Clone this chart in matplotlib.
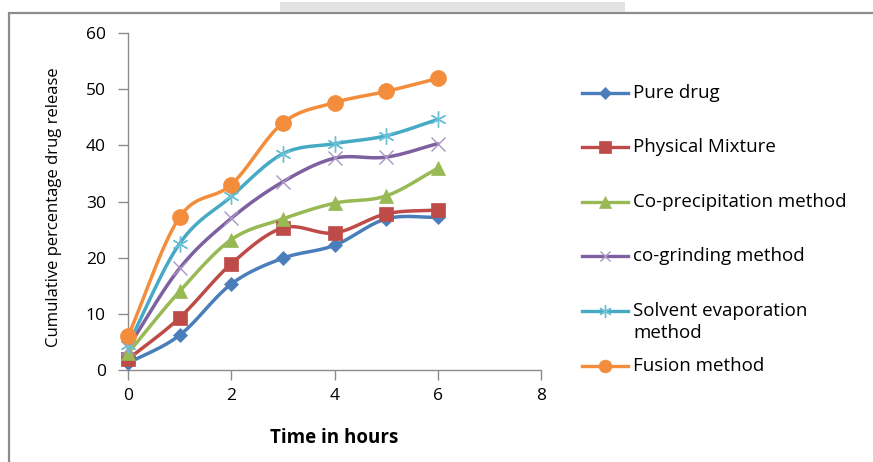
import matplotlib
matplotlib.use("Agg")
import matplotlib.pyplot as plt
from matplotlib.lines import Line2D
from matplotlib.patches import Rectangle
import numpy as np

plt.rcParams["font.family"] = ["Open Sans", "DejaVu Sans"]

hours = [0, 1, 2, 3, 4, 5, 6]
pure_drug = [1.2, 6.2, 15.3, 19.9, 22.2, 26.9, 27.2]
physical_mixture = [1.9, 9.3, 18.9, 25.3, 24.4, 27.8, 28.5]
co_precipitation = [3.0, 14.0, 23.2, 26.9, 29.7, 31.0, 35.9]
co_grinding = [4.0, 18.1, 27.0, 33.5, 37.7, 37.9, 40.3]
solvent_evaporation = [4.5, 22.5, 30.9, 38.5, 40.3, 41.7, 44.6]
fusion = [6.0, 27.2, 33.0, 44.0, 47.6, 49.6, 51.9]

SERIES = [
    (["Pure drug"], pure_drug, "#4A7EBB", "D", 7.5, "#4A7EBB"),
    (["Physical Mixture"], physical_mixture, "#BE4B48", "s", 10.5, "#BE4B48"),
    (["Co-precipitation method"], co_precipitation, "#98B954", "^", 10.5, "#98B954"),
    (["co-grinding method"], co_grinding, "#7D60A0", "x", 9.5, "#A996C4"),
    (["Solvent evaporation", "method"], solvent_evaporation, "#46AAC5", (6, 2, 0), 11.5, "#6CC0D6"),
    (["Fusion method"], fusion, "#F38D3B", "o", 11.5, "#F38D3B"),
]
LEGEND_Y_PX = [93, 147, 202, 256, 311, 366]
W, H = 873, 462


def smooth(x, y, n=20):
    # Catmull-Rom curve through the points, like Excel's smoothed line
    x = np.asarray(x, float)
    y = np.asarray(y, float)
    px = np.concatenate([[2 * x[0] - x[1]], x, [2 * x[-1] - x[-2]]])
    py = np.concatenate([[2 * y[0] - y[1]], y, [2 * y[-1] - y[-2]]])
    xs, ys = [], []
    t = np.linspace(0, 1, n, endpoint=False)
    for i in range(1, len(px) - 2):
        for p, out in ((px, xs), (py, ys)):
            p0, p1, p2, p3 = p[i - 1], p[i], p[i + 1], p[i + 2]
            out.extend(0.5 * ((2 * p1) + (-p0 + p2) * t
                              + (2 * p0 - 5 * p1 + 4 * p2 - p3) * t ** 2
                              + (-p0 + 3 * p1 - 3 * p2 + p3) * t ** 3))
    xs.append(x[-1])
    ys.append(y[-1])
    return xs, ys


fig = plt.figure(figsize=(W / 100, H / 100), dpi=100)
fig.patches.append(Rectangle((9 / W, -0.1), 1.0, 1 - 13 / H + 0.1,
                             transform=fig.transFigure, fill=False,
                             edgecolor="#8c8c8c", linewidth=1.6))
fig.patches.append(Rectangle((280 / W, 1 - 12 / H), 345 / W, 10 / H,
                             transform=fig.transFigure, facecolor="#e2e2e2",
                             edgecolor="none"))

ax = fig.add_axes([128 / W, 92 / H, 413 / W, 337 / H])

for (labels, vals, color, marker, ms, mcolor), ly in zip(SERIES, LEGEND_Y_PX):
    mew = 1.0 if marker in ("x", (6, 2, 0)) else 0.5
    sx, sy = smooth(hours, vals)
    ax.plot(sx, sy, color=color, linewidth=2.5, solid_capstyle="round",
            zorder=2, clip_on=False)
    ax.plot(hours, vals, linestyle="none", marker=marker, markersize=ms,
            color=mcolor, markeredgecolor=mcolor, markeredgewidth=mew,
            zorder=3, clip_on=False)

    # legend entry, handle on the first text line as in the original
    yf = 1 - ly / H
    fig.add_artist(Line2D([582 / W, 628 / W], [yf, yf], color=color,
                          linewidth=2.4, transform=fig.transFigure))
    fig.add_artist(Line2D([605 / W], [yf], linestyle="none", marker=marker,
                          markersize=ms * 0.8, color=mcolor,
                          markeredgecolor=mcolor, markeredgewidth=mew,
                          transform=fig.transFigure))
    for k, text in enumerate(labels):
        fig.text(633 / W, yf - k * 22 / H, text, ha="left", va="center",
                 fontsize=13.5)

ax.set_xlim(0, 8)
ax.set_ylim(0, 60)
ax.set_xticks([0, 2, 4, 6, 8])
ax.set_yticks(range(0, 61, 10))
for s in ("top", "right"):
    ax.spines[s].set_visible(False)
for s in ("left", "bottom"):
    ax.spines[s].set_color("#8c8c8c")
    ax.spines[s].set_linewidth(1.0)
ax.spines["left"].set_zorder(1)
ax.tick_params(axis="both", colors="#8c8c8c", labelcolor="black",
               labelsize=12.5, length=7, width=1.0)
ax.tick_params(axis="y", pad=9)
ax.tick_params(axis="x", pad=6)

ax.set_xlabel("Time in hours", fontsize=13.5, fontweight="bold", labelpad=17)
fig.text(54 / W, 1 - 207 / H, "Cumulative percentage drug release",
         rotation=90, ha="center", va="center", fontsize=12)

fig.savefig("out.png", dpi=100)
